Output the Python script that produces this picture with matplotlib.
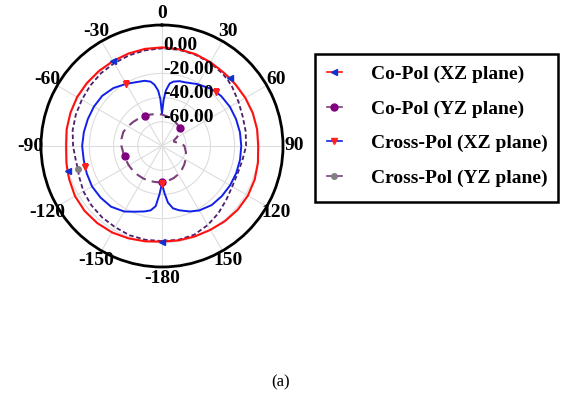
import numpy as np
import matplotlib
matplotlib.use("Agg")
import matplotlib.pyplot as plt
from matplotlib.lines import Line2D
from matplotlib.patches import Rectangle
from matplotlib import transforms

plt.rcParams['font.family'] = ['Liberation Serif', 'DejaVu Serif']

# Co-Pol (XZ plane) - red line, blue markers
ang_co_xz = [-180, -170, -160, -150, -140, -130, -120, -110, -105, -100, -90, -80, -70,
             -60, -50, -40, -30, -20, -10, 0, 10, 20, 30, 40, 45, 50, 60, 70, 80, 90,
             100, 110, 120, 130, 140, 150, 160, 170, 180]
co_xz = [-1.0, 0.0, 1.2, 2.5, 3.2, 3.5, 3.0, 1.5, 0.8, 0.2, -0.8, 0.0, 0.5,
         1.0, 1.0, 1.0, 1.0, 1.3, 1.5, 1.5, 1.2, 0.8, 0.0, -0.8, -0.9, -0.8, -0.5, -0.2,
         -0.2, -0.5, 0.5, 1.5, 2.0, 1.8, 1.0, 0.0, -0.5, -0.8, -1.0]

# Co-Pol (YZ plane) - inner dashed purple
ang_co_yz = [-180, -170, -160, -150, -140, -130, -120, -110, -105, -100, -90, -80, -70,
             -60, -50, -40, -30, -20, -10, 0, 10, 20, 30, 40, 45, 50, 55, 60, 65, 70,
             75, 80, 85, 90, 95, 105, 120, 130, 140, 150, 160, 170, 180]
co_yz = [-50, -49.7, -49.3, -49, -48.8, -48.5, -48.2, -48, -48, -47.5, -46.5, -46, -46,
         -47.5, -49, -50.2, -51.3, -52.3, -53.2, -54, -55.2, -56.3, -57.5, -58.5, -59,
         -60.5, -63, -66, -69, -69.5, -68, -65.5, -63, -61.5, -61, -59.5, -57.5, -56,
         -54.5, -53, -51.8, -50.8, -50]

# Cross-Pol (XZ plane) - blue line, red markers
ang_cx_xz = [-180, -177, -174, -170, -165, -157, -150, -140, -130, -120, -110, -105,
             -100, -90, -80, -70, -60, -50, -40, -30, -20, -15, -10, -7, -4, -2, 0, 2,
             4, 7, 10, 15, 20, 30, 40, 45, 50, 60, 70, 80, 90, 100, 110, 120, 130, 140,
             150, 157, 165, 170, 174, 177, 180]
cx_xz = [-49, -40, -30, -26, -24, -21, -17.5, -14.5, -13.7, -13.2, -13.8, -14.3,
         -14.3, -14, -14.4, -14.8, -15, -15.5, -17.5, -20.7, -23.5, -24.2, -26, -29,
         -34, -41, -53, -42, -34, -28, -26, -24.5, -24, -21, -18, -16.8, -16, -15.2,
         -14.9, -14.6, -14.5, -14.5, -14.7, -15, -15.5, -16.2, -18.5, -21.2, -25,
         -27.7, -33, -41, -49]

# Cross-Pol (YZ plane) - outer dashed dark purple
ang_cx_yz = [-180, -170, -160, -150, -140, -130, -120, -110, -105, -100, -90, -80, -70,
             -60, -50, -40, -30, -20, -10, 0, 10, 20, 30, 40, 45, 50, 60, 70, 80, 90,
             100, 110, 120, 130, 140, 150, 160, 170, 180]
cx_yz = [-1.5, -1.3, -1.5, -2.5, -3.0, -3.8, -5.0, -7.0, -8.0, -7.8, -6.5, -5.0, -4.2,
         -3.5, -2.5, -1.5, -1.0, -0.3, 0.3, 0.8, 0.8, 0.3, -0.5, -2.0, -3.0, -4.2,
         -7.0, -9.0, -9.8, -10.5, -12.5, -13.5, -13.0, -10.7, -7.5, -4.5, -2.0, -1.3,
         -1.5]

marker_angles = [-105, -30, 45, 180]
theta_ticks = [0, 30, 60, 90, 120, 150, 180, 210, 240, 270, 300, 330]
theta_labels = ['0', '30', '60', '90', '120', '150', '-180', '-150', '-120', '-90', '-60', '-30']
r_ticks = [-60, -40, -20, 0]
r_labels = ['-60.00', '-40.00', '-20.00', '0.00']
names = ['Co-Pol (XZ plane)', 'Co-Pol (YZ plane)', 'Cross-Pol (XZ plane)', 'Cross-Pol (YZ plane)']


def marks(angles):
    return [i for i, a in enumerate(angles) if a in marker_angles]


fig = plt.figure(figsize=(5.63, 3.96), dpi=100)
ax = fig.add_axes([41 / 563, 129 / 396, 242 / 563, 242 / 396], projection='polar')
ax.set_theta_zero_location('N')
ax.set_theta_direction(-1)

ax.plot(np.deg2rad(ang_cx_yz), cx_yz, color='#4a1f6e', lw=1.3, ls=(0, (2.5, 1.5)),
        marker='o', ms=4, mfc='#808080', mec='#808080',
        markevery=[ang_cx_yz.index(-105)], zorder=3)
ax.plot(np.deg2rad(ang_co_yz), co_yz, color='#7b3f7b', lw=1.5, ls=(0, (5, 3)),
        marker='o', ms=5, mfc='#800080', mec='#800080', markevery=marks(ang_co_yz), zorder=3)
ax.plot(np.deg2rad(ang_cx_xz), cx_xz, color='#1020e8', lw=1.4,
        marker='v', ms=5, mfc='#ff2020', mec='#ff2020', markevery=marks(ang_cx_xz), zorder=4)
ax.plot(np.deg2rad(ang_co_xz), co_xz, color='#ff1010', lw=1.5,
        marker='<', ms=5, mfc='#1030d0', mec='#1030d0', markevery=marks(ang_co_xz), zorder=5)

ax.set_ylim(-80, 20)
ax.set_yticks(r_ticks)
ax.set_yticklabels([])
ax.set_xticks(np.deg2rad(theta_ticks))
ax.set_xticklabels(theta_labels, fontsize=14, fontweight='bold')
ax.set_xticks(np.deg2rad(np.arange(0, 360, 5)), minor=True)
ax.tick_params(axis='x', which='major', direction='in', length=7, width=1.2, pad=1)
ax.tick_params(axis='x', which='minor', direction='in', length=4, width=1)
ax.grid(True, color='#dddddd', lw=0.8)
ax.spines['polar'].set_linewidth(2)
ax.spines['polar'].set_color('black')

off = transforms.offset_copy(ax.transData, fig=fig, x=1, y=4, units='dots')
for v, lab in zip(r_ticks, r_labels):
    ax.text(0, v, lab, transform=off, ha='left', va='center', fontsize=14,
            fontweight='bold', zorder=6)

handles = [
    Line2D([], [], color='#ff1010', lw=1.2, marker='<', ms=5, mfc='#1030d0', mec='#1030d0'),
    Line2D([], [], color='#7b3f7b', lw=1.2, marker='o', ms=5, mfc='#800080', mec='#800080'),
    Line2D([], [], color='#1020e8', lw=1.2, marker='v', ms=5, mfc='#ff2020', mec='#ff2020'),
    Line2D([], [], color='#7b3f7b', lw=1.2, marker='o', ms=4, mfc='#808080', mec='#808080'),
]
fig.legend(handles, names, loc='upper left', bbox_to_anchor=(315 / 563, 1 - 54 / 396),
           prop={'family': 'Liberation Serif', 'weight': 'bold', 'size': 14},
           frameon=False, handlelength=0.8, handletextpad=1.5, labelspacing=0.86,
           borderpad=0.6, borderaxespad=0)
# legend box drawn separately to match its size
fig.patches.append(Rectangle((315 / 563, 1 - 202 / 396), 243 / 563, 148 / 396,
                             transform=fig.transFigure, fill=False, ec='black', lw=1.8))

fig.text(281 / 563, 1 - 382 / 396, '(a)', ha='center', va='center', fontsize=12)

fig.savefig('out.png', dpi=100)
